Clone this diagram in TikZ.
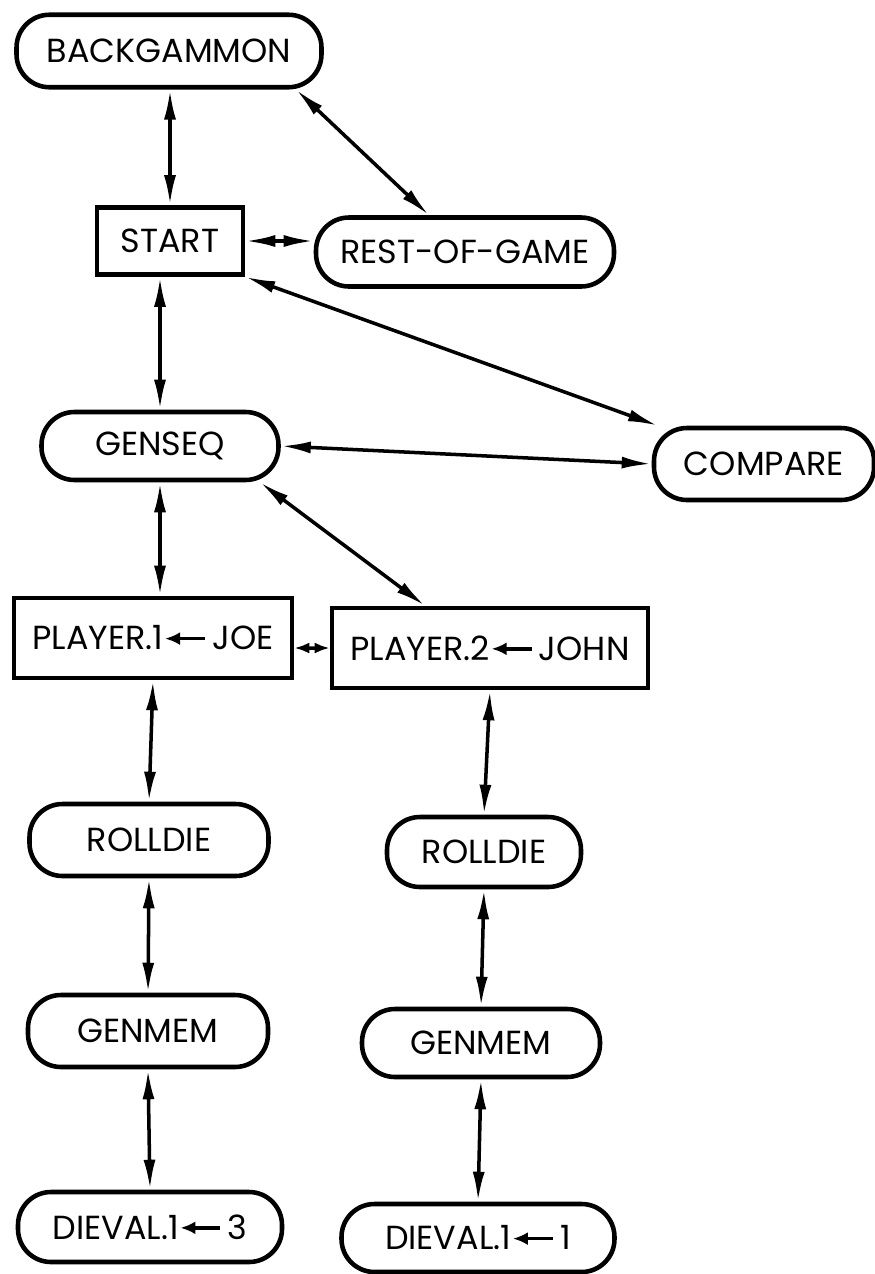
\documentclass[tikz,border=0pt]{standalone}
\usepackage{fontspec}
\setmainfont{Poppins}
\usetikzlibrary{arrows.meta}

\tikzset{
  proc/.style={draw, line width=2.6pt, rounded corners=0.66cm, inner sep=0pt,
    font=\fontsize{19}{21}\selectfont},
  stmt/.style={draw, line width=2.6pt, inner sep=0pt,
    font=\fontsize{19}{21}\selectfont},
  link/.style={{Latex[length=6mm,width=2.4mm]}-{Latex[length=6mm,width=2.4mm]}, line width=2pt},
  shortlink/.style={{Latex[length=3mm,width=2.2mm]}-{Latex[length=3mm,width=2.2mm]}, line width=2pt}
}
\newcommand{\getsarrow}{\tikz[baseline=-0.34em]\draw[{Latex[length=3mm,width=2.6mm]}-, line width=2pt] (0,0) -- (0.8cm,0);}

\begin{document}
\begin{tikzpicture}
\useasboundingbox (0,0) rectangle (17.48,-25.48);

% top level
\node[proc, minimum width=6.1cm, minimum height=1.45cm] (backgammon) at (3.38,-1.02) {BACKGAMMON};
\node[stmt, minimum width=2.92cm, minimum height=1.34cm] (start) at (3.40,-4.82) {START};
\node[proc, minimum width=5.96cm, minimum height=1.38cm] (rest) at (9.30,-5.04) {REST-OF-GAME};
\node[proc, minimum width=4.74cm, minimum height=1.36cm] (genseq) at (3.20,-8.92) {GENSEQ};
\node[proc, minimum width=4.4cm, minimum height=1.44cm] (compare) at (15.28,-9.28) {COMPARE};

% the two players
\node[stmt, minimum width=5.56cm, minimum height=1.6cm] (player1) at (3.06,-12.76) {PLAYER.1\getsarrow\,JOE};
\node[stmt, minimum width=6.32cm, minimum height=1.6cm] (player2) at (9.80,-12.96) {PLAYER.2\getsarrow\,JOHN};
\node[proc, minimum width=4.78cm, minimum height=1.44cm] (rolldie1) at (2.98,-16.80) {ROLLDIE};
\node[proc, minimum width=3.88cm, minimum height=1.40cm] (rolldie2) at (9.68,-17.04) {ROLLDIE};
\node[proc, minimum width=4.8cm, minimum height=1.44cm] (genmem1) at (2.96,-20.62) {GENMEM};
\node[proc, minimum width=4.76cm, minimum height=1.36cm] (genmem2) at (9.62,-20.86) {GENMEM};
\node[proc, minimum width=5.28cm, minimum height=1.40cm] (dieval1) at (3.00,-24.54) {DIEVAL.1\getsarrow\,3};
\node[proc, minimum width=5.46cm, minimum height=1.36cm] (dieval2) at (9.56,-24.76) {DIEVAL.1\getsarrow\,1};

% links
\draw[link] (start.north) -- (start.north |- backgammon.south);
\draw[link] ([xshift=2.54cm]backgammon.south) -- ([xshift=-0.72cm]rest.north);
\draw[link] (start.east) -- (rest.west |- start.east);
\draw[link] (start.south east) -- (compare);
\draw[link] (genseq.north) -- (genseq.north |- start.south);
\draw[link] (genseq.east) -- (compare.west);
\draw[link] (genseq.south) -- (genseq.south |- player1.north);
\draw[link] ([xshift=2cm]genseq.south) -- ([xshift=-1.3cm]player2.north);
\draw[shortlink] ([yshift=-0.2cm]player1.east) -- (player2.west);
\draw[link] (player1.south) -- (rolldie1.north);
\draw[link] (player2.south) -- (rolldie2.north);
\draw[link] (rolldie1.south) -- (genmem1.north);
\draw[link] (rolldie2.south) -- (genmem2.north);
\draw[link] (genmem1.south) -- (dieval1.north);
\draw[link] (genmem2.south) -- (dieval2.north);
\end{tikzpicture}
\end{document}
